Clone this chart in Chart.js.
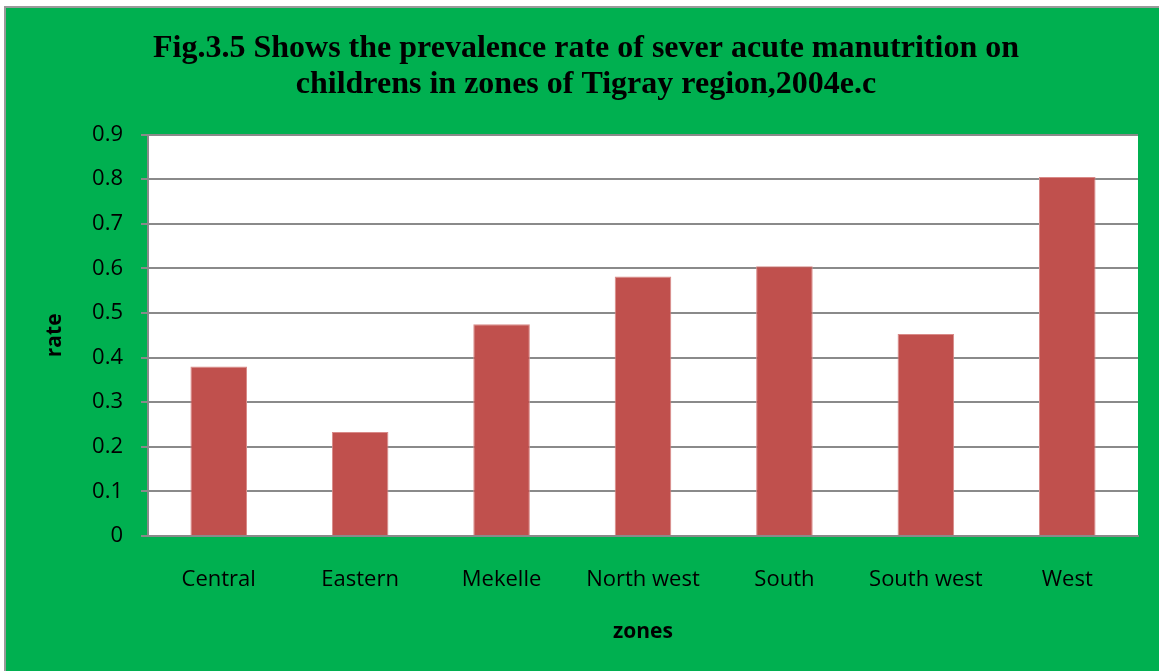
<!DOCTYPE html>
<html>
<head>
<meta charset="utf-8">
<script src="https://cdn.jsdelivr.net/npm/chart.js@4"></script>
<style>
  html, body { margin: 0; padding: 0; background: #fff; overflow: hidden; }
  #frame {
    position: absolute; left: 4px; top: 6px; width: 1170px; height: 680px;
    background: #00B050; border-left: 2px solid #9a9a9a; border-top: 2px solid #9a9a9a;
  }
  #wrap { position: absolute; left: 0; top: 0; width: 1159px; height: 671px; }
</style>
</head>
<body>
<div id="frame"></div>
<div id="wrap"><canvas id="myChart" width="1159" height="671"></canvas></div>
<script>
  const zones = ['Central', 'Eastern', 'Mekelle', 'North west', 'South', 'South west', 'West'];
  const rates = [0.38, 0.233, 0.475, 0.582, 0.605, 0.453, 0.805];
  const yTickLabels = ['0', '0.1', '0.2', '0.3', '0.4', '0.5', '0.6', '0.7', '0.8', '0.9'];

  const gridGrey = '#8a8a8a';

  // white plot area behind the bars
  const plotBg = {
    id: 'plotBg',
    beforeDraw(chart) {
      const {ctx, chartArea: a} = chart;
      ctx.save();
      ctx.fillStyle = '#ffffff';
      ctx.fillRect(a.left, a.top, a.right - a.left, a.bottom - a.top);
      ctx.restore();
    }
  };

  var ctx = document.getElementById('myChart').getContext('2d');
  var myChart = new Chart(ctx, {
    type: 'bar',
    data: {
      labels: zones,
      datasets: [{
        data: rates,
        backgroundColor: '#C0504D',
        borderColor: '#d98a88',
        borderWidth: 1,
        barPercentage: 0.4,
        categoryPercentage: 1
      }]
    },
    options: {
      responsive: false,
      animation: false,
      layout: {
        padding: { left: 34, right: 21, top: 0, bottom: 0 }
      },
      plugins: {
        legend: { display: false },
        tooltip: { enabled: false },
        title: {
          display: true,
          text: ['Fig.3.5 Shows the prevalence rate of sever acute manutrition on',
                 'childrens in zones of Tigray region,2004e.c'],
          color: '#000',
          font: { family: '"Liberation Serif", "Times New Roman", serif', size: 32, weight: 'bold', lineHeight: 1.15 },
          padding: { top: 30, bottom: 31 }
        }
      },
      scales: {
        x: {
          afterFit: s => { s.height = 135; },
          grid: { display: false },
          border: { display: true, color: gridGrey, width: 2 },
          ticks: {
            color: '#000',
            padding: 23,
            font: { family: '"Open Sans", sans-serif', size: 22 }
          },
          title: {
            display: true,
            text: 'zones',
            color: '#000',
            font: { family: '"Open Sans", sans-serif', size: 21, weight: 'bold' },
            padding: { top: 0, bottom: 26 }
          }
        },
        y: {
          min: 0,
          max: 0.9,
          afterFit: s => { s.width = 114; },
          grid: { color: gridGrey, lineWidth: 2, tickLength: 7, tickColor: gridGrey },
          border: { display: true, color: gridGrey, width: 2 },
          ticks: {
            stepSize: 0.1,
            color: '#000',
            padding: 18,
            font: { family: '"Open Sans", sans-serif', size: 22 },
            callback: (v, i) => yTickLabels[i]
          },
          title: {
            display: true,
            text: 'rate',
            color: '#000',
            font: { family: '"Open Sans", sans-serif', size: 21, weight: 'bold' },
            padding: { top: 8, bottom: 0 }
          }
        }
      }
    },
    plugins: [plotBg]
  });
</script>
</body>
</html>
